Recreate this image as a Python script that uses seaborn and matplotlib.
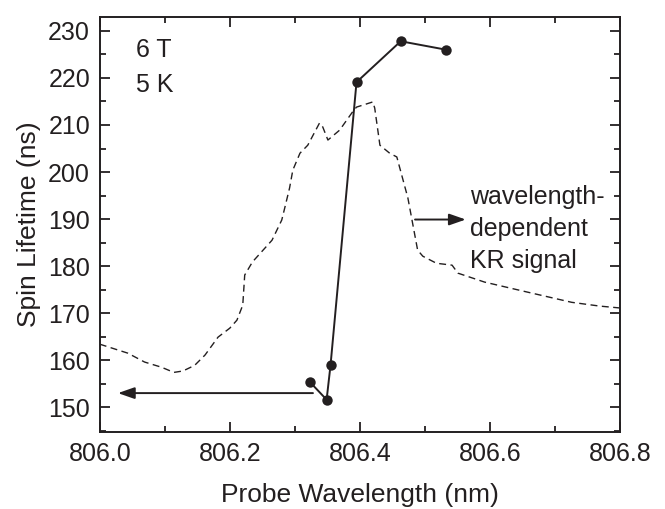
import matplotlib
matplotlib.use("Agg")
import matplotlib.pyplot as plt
from matplotlib.ticker import MultipleLocator
import seaborn as sns
import pandas as pd

# spin lifetime points
wl_pts = [806.323, 806.349, 806.355, 806.395, 806.463, 806.533]
tau_pts = [155.4, 151.6, 158.9, 219.1, 227.8, 226.0]

# wavelength-dependent KR signal (dashed trace, arbitrary scale)
wl_kr = [806.000, 806.043, 806.069, 806.095, 806.114, 806.128, 806.146, 806.162,
         806.182, 806.200, 806.211, 806.220, 806.223, 806.235, 806.265, 806.280,
         806.285, 806.292, 806.297, 806.308, 806.320, 806.338, 806.343, 806.351,
         806.369, 806.389, 806.395, 806.420, 806.423, 806.431, 806.446, 806.457,
         806.474, 806.489, 806.497, 806.518, 806.542, 806.551, 806.592, 806.657,
         806.726, 806.769, 806.800]
kr_sig = [163.4, 161.5, 159.6, 158.5, 157.4, 157.7, 158.9, 161.1,
          164.9, 166.8, 168.5, 171.7, 178.1, 180.9, 185.5, 189.8,
          192.6, 196.6, 200.4, 204.0, 205.7, 210.4, 209.6, 206.8,
          208.9, 212.8, 213.8, 214.9, 213.6, 205.7, 204.0, 203.2,
          194.5, 183.4, 182.1, 180.6, 180.2, 178.5, 176.6, 174.5,
          172.3, 171.5, 171.1]

ink = "#231f20"

sns.set_style("ticks")
plt.rcParams['font.family'] = ['Liberation Sans', 'DejaVu Sans']

fig = plt.figure(figsize=(6.65, 5.09), dpi=100)
ax = fig.add_axes([0.150, 0.151, 0.782, 0.816])

df_kr = pd.DataFrame({"wl": wl_kr, "sig": kr_sig})
df_pts = pd.DataFrame({"wl": wl_pts, "tau": tau_pts})

sns.lineplot(data=df_kr, x="wl", y="sig", estimator=None, ax=ax, color=ink,
             linewidth=1.0, linestyle=(0, (5, 3.2)))
sns.lineplot(data=df_pts, x="wl", y="tau", estimator=None, ax=ax, color=ink,
             linewidth=1.4, marker="o", markersize=7.5, markeredgewidth=0)

arrow = dict(arrowstyle="-|>,head_length=1.0,head_width=0.35", color=ink,
             lw=1.4, mutation_scale=10, shrinkA=0, shrinkB=0)
ax.annotate("", xy=(806.028, 153.0), xytext=(806.328, 153.0), arrowprops=arrow)
ax.annotate("", xy=(806.563, 189.9), xytext=(806.485, 189.9), arrowprops=arrow)

ax.text(0.069, 0.92, "6 T", transform=ax.transAxes, fontsize=18, color=ink,
        va="center", ha="left")
ax.text(0.069, 0.836, "5 K", transform=ax.transAxes, fontsize=18, color=ink,
        va="center", ha="left")
ax.text(806.569, 187.9, "wavelength-\ndependent\nKR signal", fontsize=18,
        color=ink, va="center", ha="left", linespacing=1.42)

ax.set_xlim(806.0, 806.8)
ax.set_ylim(144.7, 233.0)
ax.xaxis.set_major_locator(MultipleLocator(0.2))
ax.xaxis.set_minor_locator(MultipleLocator(0.1))
ax.yaxis.set_major_locator(MultipleLocator(10))
ax.yaxis.set_minor_locator(MultipleLocator(5))
ax.xaxis.set_major_formatter(matplotlib.ticker.FormatStrFormatter("%.1f"))

ax.tick_params(which="both", direction="in", top=True, right=True,
               colors=ink, labelsize=18, width=1.3, pad=7)
ax.tick_params(which="major", length=7)
ax.tick_params(which="minor", length=4)
for s in ax.spines.values():
    s.set_visible(True)
    s.set_color(ink)
    s.set_linewidth(1.4)

ax.set_xlabel("Probe Wavelength (nm)", fontsize=19, color=ink, labelpad=12)
ax.set_ylabel("Spin Lifetime (ns)", fontsize=19, color=ink, labelpad=5)

fig.savefig("out.png", dpi=100)
